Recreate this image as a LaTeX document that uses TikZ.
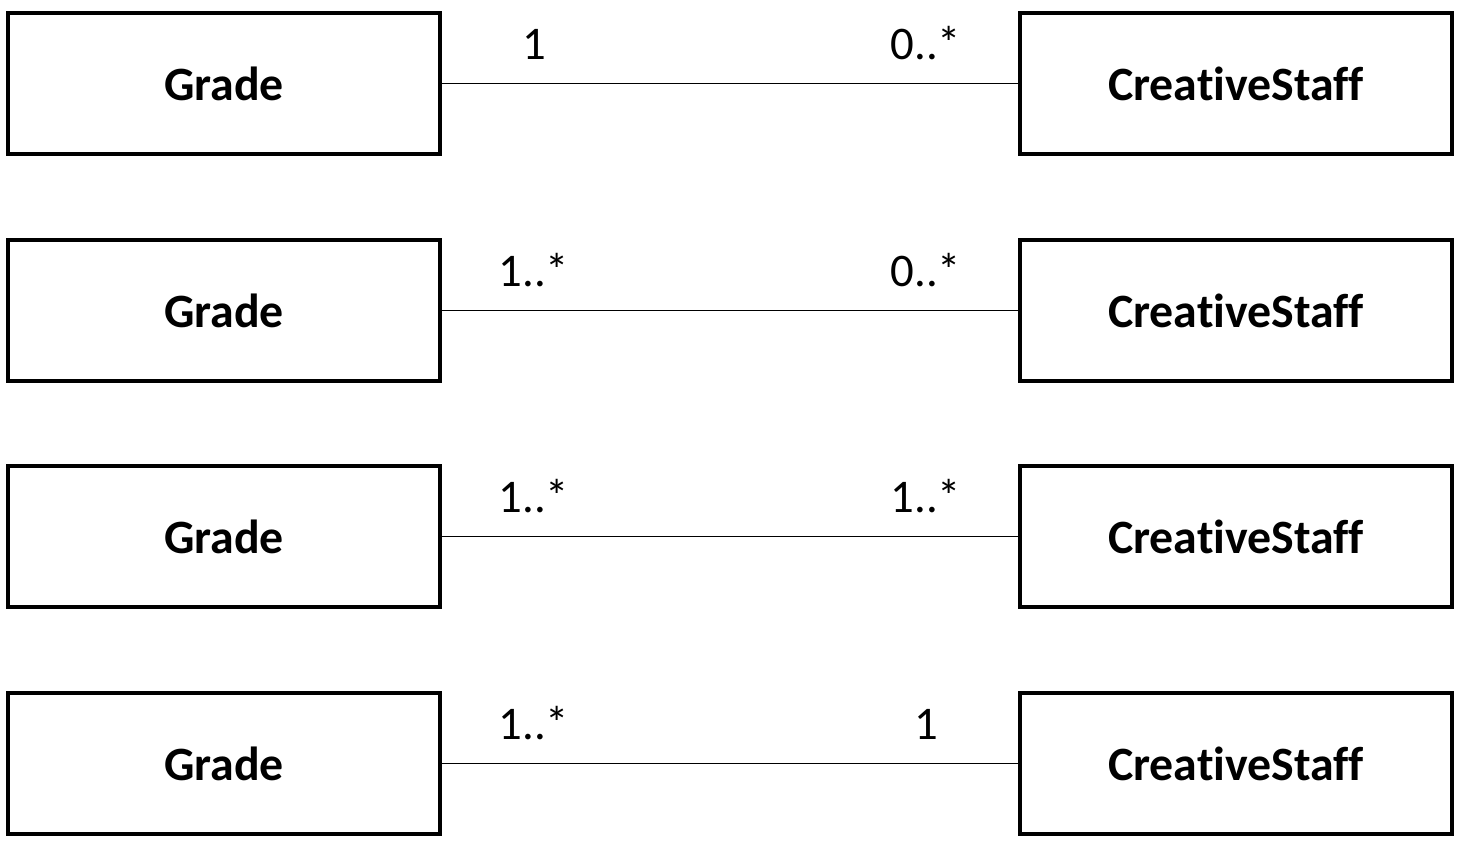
\documentclass[tikz,border=0pt]{standalone}
\usepackage{fontspec}
\setmainfont{Carlito}[Ligatures={NoCommon,NoContextual}]

\begin{document}
\begin{tikzpicture}[x=0.01cm,y=-0.01cm]
\tikzstyle{class}=[draw=black,line width=1pt,minimum width=4.32cm,minimum height=1.41cm,inner sep=0pt,font=\fontsize{13.6}{16}\selectfont\bfseries]
\tikzstyle{mult}=[anchor=base,inner sep=0pt,font=\fontsize{13.3}{16}\selectfont]
\tikzstyle{assoc}=[black,line width=0.35pt]
\useasboundingbox (0,0) rectangle (1462,846);
% row 1
\node [class] (grade1) at (224,83.5) {Grade};
\node [class] (staff1) at (1236,83.5) {CreativeStaff};
\draw [assoc] (grade1) -- (staff1);
\node [mult] (g1) at (534,60) {1};
\node [mult] (s1) at (926,60) {0..*};
% row 2
\node [class] (grade2) at (224,310.5) {Grade};
\node [class] (staff2) at (1236,310.5) {CreativeStaff};
\draw [assoc] (grade2) -- (staff2);
\node [mult] (g2) at (534,287) {1..*};
\node [mult] (s2) at (926,287) {0..*};
% row 3
\node [class] (grade3) at (224,536.5) {Grade};
\node [class] (staff3) at (1236,536.5) {CreativeStaff};
\draw [assoc] (grade3) -- (staff3);
\node [mult] (g3) at (534,513) {1..*};
\node [mult] (s3) at (926,513) {1..*};
% row 4
\node [class] (grade4) at (224,763.5) {Grade};
\node [class] (staff4) at (1236,763.5) {CreativeStaff};
\draw [assoc] (grade4) -- (staff4);
\node [mult] (g4) at (534,740) {1..*};
\node [mult] (s4) at (926,740) {1};
\end{tikzpicture}
\end{document}
